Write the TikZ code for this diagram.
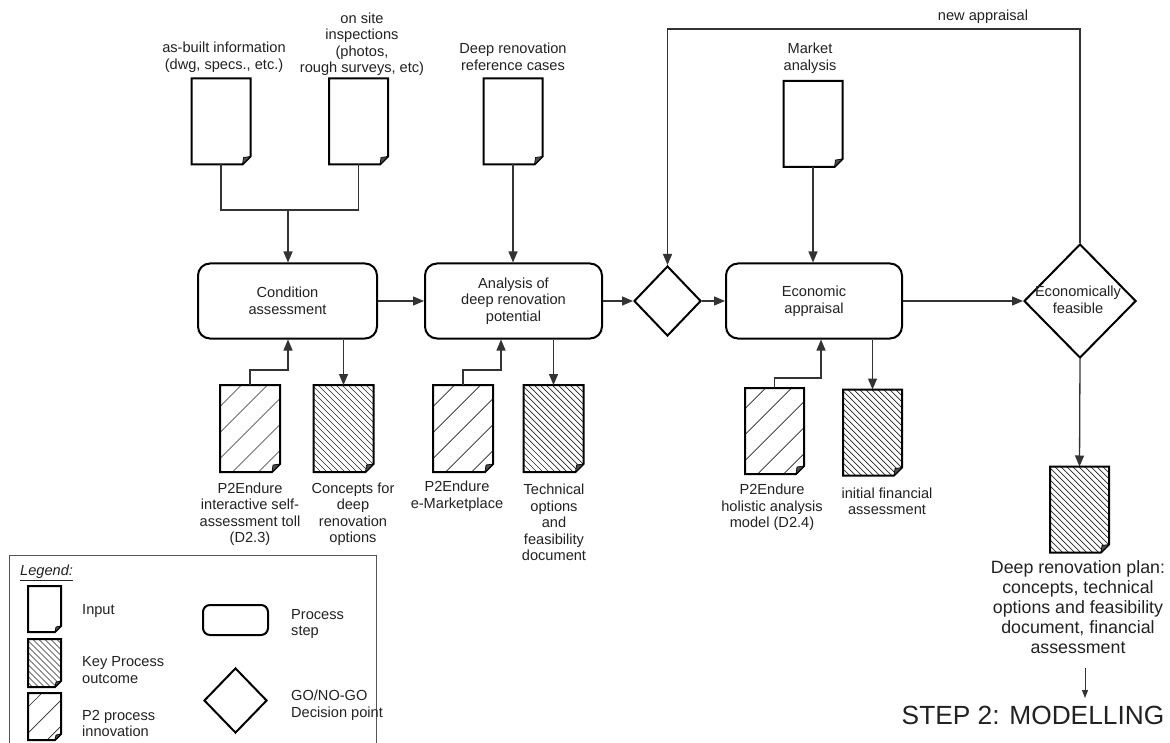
\documentclass[tikz,border=0pt]{standalone}
\usepackage{fontspec}
\setmainfont{Liberation Sans}
\usetikzlibrary{arrows.meta,shapes.geometric,calc}

\definecolor{ink}{HTML}{222222}
\definecolor{wire}{HTML}{333333}
\definecolor{framegray}{HTML}{555555}

% A sheet of paper with a folded lower right corner, drawn over an empty node.
% #1 node name, #2 hatching (0 none, 1 dense back-slash, 2 sparse slash), #3 fold size
\newcommand{\paperdoc}[3]{%
  \fill[white] (#1.north west) -- (#1.north east) -- ([yshift=#3]#1.south east)
     -- ([xshift=-#3]#1.south east) -- (#1.south west) -- cycle;
  \ifnum#2>0
  \begin{scope}
    \clip (#1.north west) -- (#1.north east) -- ([yshift=#3]#1.south east)
       -- ([xshift=-#3]#1.south east) -- (#1.south west) -- cycle;
    \ifnum#2=1
      \foreach \k in {-126,-120,...,126}
        \draw[hatchline] ($(#1.center)+(\k-70,-70)$) -- ($(#1.center)+(\k+70,70)$);
    \else
      \foreach \k in {-130,-104,...,130}
        \draw[hatchline] ($(#1.center)+(\k-70,70)$) -- ($(#1.center)+(\k+70,-70)$);
    \fi
  \end{scope}
  \fi
  \draw[paperline] (#1.north west) -- (#1.north east) -- ([yshift=#3]#1.south east)
     -- ([xshift=-#3]#1.south east) -- (#1.south west) -- cycle;
  \filldraw[fold] ([yshift=#3]#1.south east) -- ([xshift=-#3]#1.south east)
     -- ([xshift=-#3+1pt,yshift=#3-1pt]#1.south east) -- cycle;
}

\begin{document}
\begin{tikzpicture}[x=1pt,y=-1pt,
  txt/.style={font=\fontsize{14.6}{16.5}\selectfont, align=center, inner sep=0pt, text=ink},
  proc/.style={draw=black, line width=2pt, rounded corners=12pt, minimum height=75pt,
    align=center, font=\fontsize{14.6}{16.5}\selectfont, text=ink, inner sep=0pt},
  decision/.style={diamond, draw=black, line width=2pt, inner sep=0pt},
  docbox/.style={rectangle, inner sep=0pt, outer sep=0pt, minimum width=59pt, minimum height=86pt},
  conn/.style={draw=wire, line width=1.3pt},
  arr/.style={conn, -{Triangle[length=11pt,width=9pt]}},
  paperline/.style={draw=black, line width=2pt, line join=miter},
  hatchline/.style={draw=black!85, line width=0.7pt},
  fold/.style={draw=black, fill=black!70, line width=0.7pt, line join=round},
  legendframe/.style={draw=framegray, line width=1pt},
]
\useasboundingbox (0,0) rectangle (1170,743);
\fill[white] (0,0) rectangle (1170,743);

% ---------- inputs ----------
\node[docbox] (inA) at (221,121.5) {};
\node[docbox] (inB) at (358.5,121.5) {};
\node[docbox] (inC) at (513,121.5) {};
\node[docbox] (inD) at (813,124) {};
\paperdoc{inA}{0}{8pt}
\paperdoc{inB}{0}{8pt}
\paperdoc{inC}{0}{8pt}
\paperdoc{inD}{0}{8pt}

\node[txt] (lblA) at (224,57) {as-built information\\(dwg, specs., etc.)};
\node[txt] (lblB) at (362,44) {on site\\inspections\\(photos,\\rough surveys, etc)};
\node[txt] (lblC) at (513,57) {Deep renovation\\reference cases};
\node[txt] (lblD) at (810,58) {Market\\analysis};

% ---------- process chain ----------
\node[proc, minimum width=179pt] (cond) at (287.5,301) {Condition\\assessment};
\node[proc, minimum width=177pt] (anal) at (513.5,301) {Analysis of\\deep renovation\\potential};
\node[decision, minimum width=67pt, minimum height=70pt] (dec1) at (667.5,301) {};
\node[proc, minimum width=176pt] (econ) at (814,301) {Economic\\appraisal};
\node[decision, minimum width=112pt, minimum height=114pt] (dec2) at (1080,301) {};
\node[txt] (dec2txt) at (1078,300) {Economically\\feasible};

% ---------- outcomes and innovations ----------
\node[docbox, minimum width=60pt, minimum height=87pt] (innA) at (250,428.5) {};
\node[docbox, minimum width=60pt, minimum height=87pt] (outA) at (343.5,428.5) {};
\node[docbox, minimum width=60pt, minimum height=87pt] (innB) at (463,428.5) {};
\node[docbox, minimum width=60pt, minimum height=87pt] (outB) at (553.5,428.5) {};
\node[docbox] (innC) at (774.5,431) {};
\node[docbox] (outC) at (872.5,432.5) {};
\node[docbox] (outD) at (1079.5,509.5) {};
\paperdoc{innA}{2}{8pt}
\paperdoc{outA}{1}{8pt}
\paperdoc{innB}{2}{8pt}
\paperdoc{outB}{1}{8pt}
\paperdoc{innC}{2}{8pt}
\paperdoc{outC}{1}{8pt}
\paperdoc{outD}{1}{8pt}

\node[txt] (lblInnA) at (250,514) {P2Endure\\interactive self-\\assessment toll\\(D2.3)};
\node[txt] (lblOutA) at (353,514) {Concepts for\\deep\\renovation\\options};
\node[txt] (lblInnB) at (457,496) {P2Endure\\e-Marketplace};
\node[txt] (lblOutB) at (554,522.5) {Technical\\options\\and\\feasibility\\document};
\node[txt] (lblInnC) at (772,507.5) {P2Endure\\holistic analysis\\model (D2.4)};
\node[txt] (lblOutC) at (887,501.5) {initial financial\\assessment};
\node[txt, font=\fontsize{17.8}{20}\selectfont] (plan) at (1078,607)
  {Deep renovation plan:\\concepts, technical\\options and feasibility\\document, financial\\assessment};
\node[txt, font=\fontsize{26.3}{30}\selectfont] (step2) at (1033,715) {STEP 2: MODELLING};

% ---------- connectors ----------
\coordinate (merge) at (288,210);
\draw[conn] (inA.south) |- (merge) -| (inB.south);
\draw[arr] (merge) -- (merge |- cond.north);
\draw[arr] (inC.south) -- (inC.south |- anal.north);
\draw[arr] (inD.south) -- (inD.south |- econ.north);

\draw[arr] (cond.east) -- (anal.west);
\draw[arr] (anal.east) -- (dec1.west);
\draw[arr] (dec1.east) -- (econ.west);
\draw[arr] (econ.east) -- (dec2.west);

\coordinate (loopL) at (667.5,29);
\draw[arr] (dec2.north) |- (loopL) -- (dec1.north);
\node[txt] (newapp) at (983,17) {new appraisal};

\coordinate (jA) at (288,370);
\coordinate (jB) at (501,370);
\coordinate (jC) at (821,378);
\draw[arr] (innA.north) |- (jA) -- (jA |- cond.south);
\draw[arr] (innB.north) |- (jB) -- (jB |- anal.south);
\draw[arr] (innC.north) |- (jC) -- (jC |- econ.south);

\draw[arr] (outA.north |- cond.south) -- (outA.north);
\draw[arr] (outB.north |- anal.south) -- (outB.north);
\draw[arr] (outC.north |- econ.south) -- (outC.north);
\draw[arr] (dec2.south) -- (outD.north);

\coordinate (s2top) at (1085,668);
\coordinate (s2bot) at (1085,698);
\draw[conn, line width=1pt, -{Triangle[length=8pt,width=6pt]}] (s2top) -- (s2bot);

% ---------- legend ----------
\draw[legendframe] (9,555) rectangle (376,760);
\node[txt, anchor=west] (legtitle) at (20,573) {\textit{\underline{Legend:}}};

\node[docbox, minimum width=33pt, minimum height=46pt] (lgIn) at (44.5,609) {};
\node[docbox, minimum width=33pt, minimum height=48pt] (lgOut) at (44.5,663) {};
\node[docbox, minimum width=33pt, minimum height=47pt] (lgInn) at (44.5,716.5) {};
\paperdoc{lgIn}{0}{6pt}
\paperdoc{lgOut}{1}{6pt}
\paperdoc{lgInn}{2}{6pt}

\node[txt, anchor=west, align=left] (lgInTxt) at (82,611) {Input};
\node[txt, anchor=west, align=left] (lgOutTxt) at (82,670) {Key Process\\outcome};
\node[txt, anchor=west, align=left] (lgInnTxt) at (82,723.5) {P2 process\\innovation};

\node[proc, minimum width=65pt, minimum height=30pt, rounded corners=7pt] (lgProc) at (235.5,620) {};
\node[decision, minimum width=63pt, minimum height=65pt] (lgDec) at (235.5,700.5) {};
\node[txt, anchor=west, align=left] (lgProcTxt) at (291,624) {Process\\step};
\node[txt, anchor=west, align=left] (lgDecTxt) at (291,705) {GO/NO-GO\\Decision point};
\end{tikzpicture}
\end{document}
